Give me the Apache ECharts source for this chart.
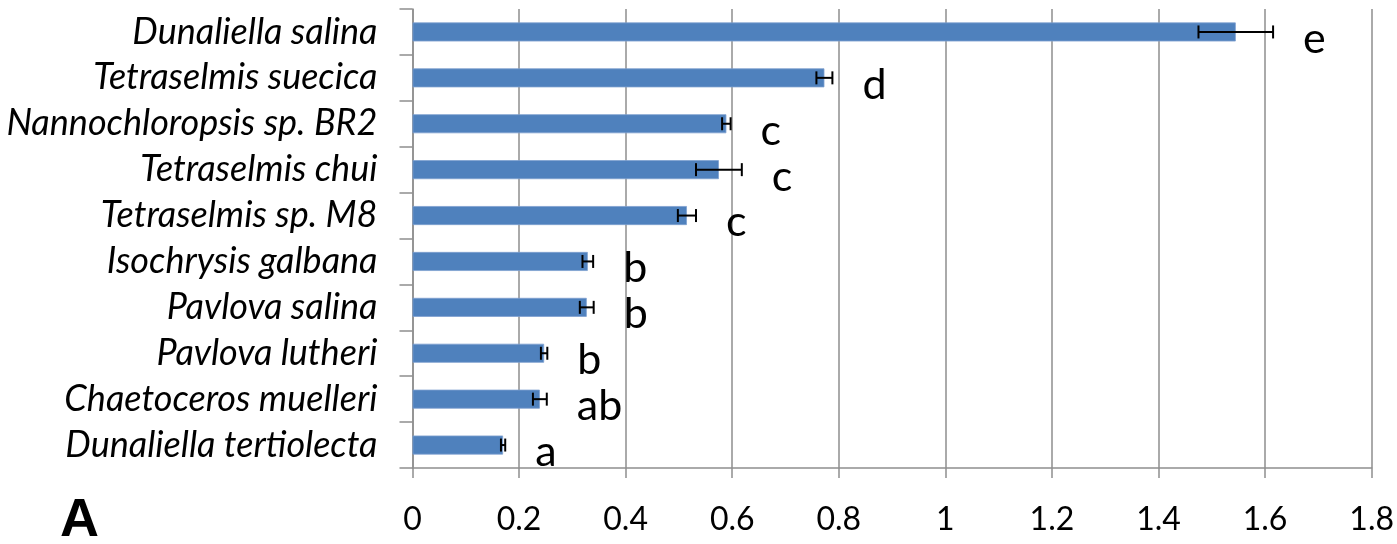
<!DOCTYPE html>
<html>
<head>
<meta charset="utf-8">
<script src="https://cdn.jsdelivr.net/npm/echarts@6/dist/echarts.min.js"></script>
<style>
  html, body { margin: 0; padding: 0; background: #fff; }
  #chart { width: 1397px; height: 544px; }
</style>
</head>
<body>
<div id="chart"></div>
<script>
// Species, listed top to bottom
const species = [
  'Dunaliella salina',
  'Tetraselmis suecica',
  'Nannochloropsis sp. BR2',
  'Tetraselmis chui',
  'Tetraselmis sp. M8',
  'Isochrysis galbana',
  'Pavlova salina',
  'Pavlova lutheri',
  'Chaetoceros muelleri',
  'Dunaliella tertiolecta'
];
// Mean values
const means = [1.545, 0.773, 0.589, 0.575, 0.515, 0.329, 0.327, 0.247, 0.239, 0.170];
// Error (±)
const errors = [0.070, 0.015, 0.008, 0.043, 0.017, 0.010, 0.013, 0.006, 0.013, 0.004];
// Significance groups
const groups = ['e', 'd', 'c', 'c', 'c', 'b', 'b', 'b', 'ab', 'a'];
// Value axis ticks
const xTicks = [0, 0.2, 0.4, 0.6, 0.8, 1, 1.2, 1.4, 1.6, 1.8];

const FONT = 'Lato, "Open Sans", sans-serif';
const GRID = '#8e8e8e';

const chart = echarts.init(document.getElementById('chart'), null, { renderer: 'canvas' });

const errData = species.map((s, i) => [i, means[i], errors[i], groups[i]]);

chart.setOption({
  animation: false,
  backgroundColor: '#fff',
  grid: { left: 412.5, right: 24.5, top: 9, bottom: 76, containLabel: false },
  xAxis: {
    type: 'value',
    min: xTicks[0],
    max: xTicks[xTicks.length - 1],
    interval: 0.2,
    axisLine: { show: true, lineStyle: { color: GRID, width: 1.5 } },
    axisTick: { show: true, length: 10, lineStyle: { color: GRID, width: 1.5 } },
    splitLine: { show: true, lineStyle: { color: GRID, width: 1.5 } },
    axisLabel: {
      color: '#000', fontFamily: FONT, fontSize: 32, margin: 36,
      formatter: v => String(+v.toFixed(1))
    }
  },
  yAxis: {
    type: 'category',
    data: species,
    inverse: true,
    axisLine: { show: true, lineStyle: { color: GRID, width: 1.5 } },
    axisTick: { show: true, length: 13, lineStyle: { color: GRID, width: 1.5 } },
    axisLabel: {
      interval: 0,
      color: '#000', fontFamily: FONT, fontStyle: 'italic', fontSize: 36, margin: 35
    }
  },
  graphic: [{
    type: 'text', left: 60, top: 494,
    style: { text: 'A', fontFamily: 'Arial, "Liberation Sans", sans-serif', fontWeight: 'bold', fontSize: 54, fill: '#000' }
  }],
  series: [
    {
      type: 'bar',
      data: means,
      barWidth: 19,
      itemStyle: { color: '#4f81bd', borderColor: '#7da0cf', borderWidth: 0.8 },
      z: 2
    },
    {
      type: 'custom',
      data: errData,
      encode: { x: 1, y: 0 },
      z: 5,
      renderItem: (params, api) => {
        const idx = api.value(0);
        const m = api.value(1);
        const e = api.value(2);
        const g = errData[params.dataIndex][3];
        const lo = api.coord([m - e, idx]);
        const hi = api.coord([m + e, idx]);
        const y = lo[1];
        const cap = 6.5;
        const ls = { stroke: '#000', lineWidth: 2 };
        return {
          type: 'group',
          children: [
            { type: 'line', shape: { x1: lo[0], y1: y, x2: hi[0], y2: y }, style: ls },
            { type: 'line', shape: { x1: lo[0], y1: y - cap, x2: lo[0], y2: y + cap }, style: ls },
            { type: 'line', shape: { x1: hi[0], y1: y - cap, x2: hi[0], y2: y + cap }, style: ls },
            {
              type: 'text',
              x: hi[0] + 30, y: y + 7,
              style: {
                text: g, fill: '#000', fontFamily: FONT, fontSize: 43,
                align: 'left', verticalAlign: 'middle'
              }
            }
          ]
        };
      }
    }
  ]
});
</script>
</body>
</html>
